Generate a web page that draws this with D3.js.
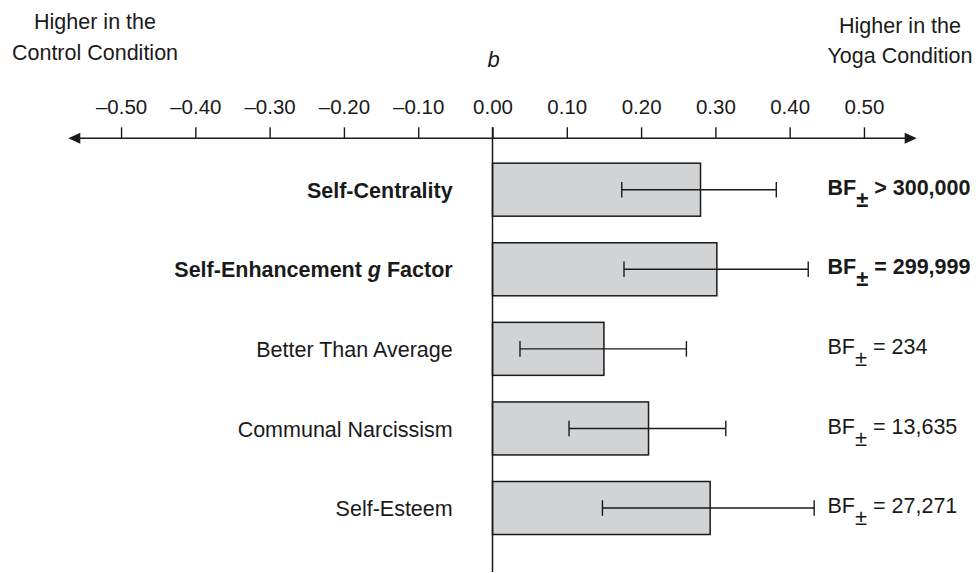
<!DOCTYPE html>
<html>
<head>
<meta charset="utf-8">
<script src="https://cdn.jsdelivr.net/npm/d3@7"></script>
<style>
  html, body { margin: 0; padding: 0; background: #fff; }
  svg { display: block; font-family: "Liberation Sans", Arial, sans-serif; }
</style>
</head>
<body>
<svg id="chart" width="979" height="573"></svg>
<script>
// ---- data ----
const categories = ["Self-Centrality", "Self-Enhancement g Factor", "Better Than Average", "Communal Narcissism", "Self-Esteem"];
const bValues = [0.280, 0.302, 0.150, 0.210, 0.293];
const ciLow = [0.174, 0.177, 0.037, 0.103, 0.148];
const ciHigh = [0.382, 0.425, 0.261, 0.314, 0.433];
const bfRelations = [">", "=", "=", "=", "="];
const bfValues = ["300,000", "299,999", "234", "13,635", "27,271"];
const boldRows = [true, true, false, false, false];
const tickValues = [-0.5, -0.4, -0.3, -0.2, -0.1, 0, 0.1, 0.2, 0.3, 0.4, 0.5];
const axisTitle = "b";
const leftTitle = ["Higher in the", "Control Condition"];
const rightTitle = ["Higher in the", "Yoga Condition"];

const rows = categories.map((c, i) => ({
  cat: c, b: bValues[i], lo: ciLow[i], hi: ciHigh[i],
  rel: bfRelations[i], bf: bfValues[i], bold: boldRows[i]
}));

// ---- layout ----
const svg = d3.select("#chart");
const ink = "#1a1a1a";
const axisY = 138.3;

const x = d3.scaleLinear().domain([-0.571, 0.571]).range([68.3, 916.7]);
const y = d3.scaleBand().domain(categories).range([149.9, 547.8])
  .paddingInner(0.334).paddingOuter(0.167);

// titles
const tl = svg.append("text").attr("font-size", 21.5).attr("fill", ink).attr("text-anchor", "middle");
tl.append("tspan").attr("x", 95).attr("y", 29).text(leftTitle[0]);
tl.append("tspan").attr("x", 95).attr("y", 60).text(leftTitle[1]);
const tr = svg.append("text").attr("font-size", 21.5).attr("fill", ink).attr("text-anchor", "middle");
tr.append("tspan").attr("x", 900).attr("y", 33).text(rightTitle[0]);
tr.append("tspan").attr("x", 900).attr("y", 63).text(rightTitle[1]);

svg.append("text").attr("x", x(0) + 1).attr("y", 66.5)
  .attr("text-anchor", "middle").attr("font-size", 22).attr("font-style", "italic")
  .attr("fill", ink).text(axisTitle);

// axis
const fmt = v => (v < 0 ? "\u2013" : "") + Math.abs(v).toFixed(2);
const axisG = svg.append("g").attr("transform", `translate(0,${axisY})`)
  .call(d3.axisTop(x).tickValues(tickValues).tickFormat(fmt)
    .tickSizeInner(11).tickSizeOuter(0).tickPadding(13.3));
axisG.select(".domain").remove();
axisG.selectAll(".tick line").attr("stroke", ink).attr("stroke-width", 1.4);
axisG.selectAll(".tick text").attr("font-size", 20.5).attr("fill", ink)
  .attr("font-family", "\"Liberation Sans\", Arial, sans-serif");

// axis line with arrows
const [x0, x1] = x.range();
svg.append("line").attr("x1", x0 + 6).attr("x2", x1 - 6).attr("y1", axisY).attr("y2", axisY)
  .attr("stroke", ink).attr("stroke-width", 1.6);
svg.append("path").attr("d", `M${x0},${axisY} L${x0 + 12},${axisY - 5.5} L${x0 + 12},${axisY + 5.5} Z`).attr("fill", ink);
svg.append("path").attr("d", `M${x1},${axisY} L${x1 - 12},${axisY - 5.5} L${x1 - 12},${axisY + 5.5} Z`).attr("fill", ink);

// bars
svg.append("g").selectAll("rect").data(rows).join("rect")
  .attr("x", d => x(0))
  .attr("y", d => y(d.cat))
  .attr("width", d => x(d.b) - x(0))
  .attr("height", y.bandwidth())
  .attr("fill", "#d1d3d4").attr("stroke", ink).attr("stroke-width", 1.5);

// zero line
svg.append("line").attr("x1", x(0)).attr("x2", x(0)).attr("y1", axisY - 11).attr("y2", 572)
  .attr("stroke", ink).attr("stroke-width", 1.5);

// error bars
const eg = svg.append("g").attr("stroke", ink).attr("stroke-width", 1.4);
rows.forEach(d => {
  const cy = y(d.cat) + y.bandwidth() / 2;
  eg.append("line").attr("x1", x(d.lo)).attr("x2", x(d.hi)).attr("y1", cy).attr("y2", cy);
  eg.append("line").attr("x1", x(d.lo)).attr("x2", x(d.lo)).attr("y1", cy - 7.8).attr("y2", cy + 7.8);
  eg.append("line").attr("x1", x(d.hi)).attr("x2", x(d.hi)).attr("y1", cy - 7.8).attr("y2", cy + 7.8);
});

// category labels
rows.forEach(d => {
  const cy = y(d.cat) + y.bandwidth() / 2;
  const t = svg.append("text").attr("x", 452.7).attr("y", cy + 8.2)
    .attr("text-anchor", "end").attr("font-size", 21.5).attr("fill", ink)
    .attr("font-weight", d.bold ? "bold" : "normal");
  if (d.cat.includes(" g ")) {
    const parts = d.cat.split(" g ");
    t.append("tspan").text(parts[0] + " ");
    t.append("tspan").attr("font-style", "italic").text("g");
    t.append("tspan").text(" " + parts[1]);
  } else {
    t.text(d.cat);
  }
});

// BF labels
rows.forEach(d => {
  const cy = y(d.cat) + y.bandwidth() / 2;
  const t = svg.append("text").attr("x", 827.5).attr("y", cy + 5.2)
    .attr("font-size", 21.5).attr("fill", ink)
    .attr("font-weight", d.bold ? "bold" : "normal");
  t.append("tspan").text("BF");
  t.append("tspan").attr("font-size", 22).attr("dy", 12).text("\u00B1");
  t.append("tspan").attr("dy", -12).text(" " + d.rel + " " + d.bf);
});
</script>
</body>
</html>
